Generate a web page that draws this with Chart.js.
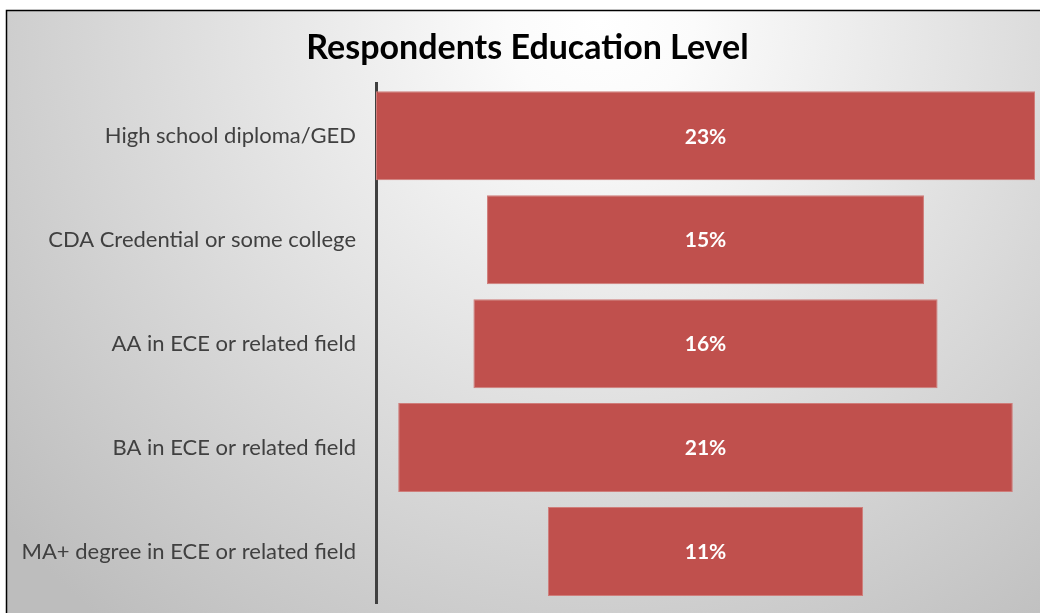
<!DOCTYPE html>
<html>
<head>
<meta charset="utf-8">
<script src="https://cdn.jsdelivr.net/npm/chart.js@4"></script>
<style>
  body { margin: 0; background: #ffffff; }
  #wrap { width: 1040px; height: 613px; position: relative; }
</style>
</head>
<body>
<div id="wrap"><canvas id="myChart"></canvas></div>
<script>
var categories = [
  'High school diploma/GED',
  'CDA Credential or some college',
  'AA in ECE or related field',
  'BA in ECE or related field',
  'MA+ degree in ECE or related field'
];
var percents = [23, 15.25, 16.2, 21.45, 11];
var labelsText = ['23%', '15%', '16%', '21%', '11%'];

var maxVal = 23;
var middle = maxVal / 2;

// funnel: each bar floats around the middle of the axis
var floating = percents.map(function (v) {
  return [middle - v / 2, middle + v / 2];
});

var backdrop = {
  id: 'backdrop',
  beforeDraw: function (chart) {
    var ctx = chart.ctx;
    var w = chart.width, h = chart.height;
    ctx.save();
    ctx.fillStyle = '#ffffff';
    ctx.fillRect(0, 0, w, h);
    var g = ctx.createRadialGradient(600, 20, 0, 600, 20, 780);
    g.addColorStop(0, '#ffffff');
    g.addColorStop(0.12, '#fbfbfb');
    g.addColorStop(1, '#bdbdbd');
    ctx.fillStyle = g;
    ctx.fillRect(6, 10, w - 6, h - 10);
    ctx.strokeStyle = '#000000';
    ctx.lineWidth = 1.5;
    ctx.beginPath();
    ctx.moveTo(6.5, h);
    ctx.lineTo(6.5, 10.5);
    ctx.lineTo(w, 10.5);
    ctx.stroke();
    ctx.restore();
  }
};

var barText = {
  id: 'barText',
  afterDatasetsDraw: function (chart) {
    var ctx = chart.ctx;
    var meta = chart.getDatasetMeta(0);
    ctx.save();
    ctx.fillStyle = '#ffffff';
    ctx.font = 'bold 21px Lato';
    ctx.textAlign = 'center';
    ctx.textBaseline = 'middle';
    meta.data.forEach(function (bar, i) {
      ctx.fillText(labelsText[i], (bar.x + bar.base) / 2, bar.y + 1);
    });
    ctx.restore();
  }
};

var data = {
  labels: categories,
  datasets: [{
    label: 'Education',
    data: floating,
    backgroundColor: '#c0504d',
    borderColor: '#cf7d7a',
    borderWidth: 1,
    borderSkipped: false,
    categoryPercentage: 1,
    barPercentage: 0.856
  }]
};

var config = {
  type: 'bar',
  data: data,
  options: {
    indexAxis: 'y',
    responsive: true,
    maintainAspectRatio: false,
    animation: false,
    layout: {
      padding: { top: 12, left: 20, right: 5, bottom: 9.5 }
    },
    plugins: {
      legend: { display: false },
      tooltip: { enabled: false },
      title: {
        display: true,
        text: 'Respondents Education Level',
        color: '#000000',
        font: { family: 'Lato', size: 34, weight: 'bold', lineHeight: 1.2 },
        padding: { top: 16, bottom: 15 }
      }
    },
    scales: {
      x: {
        display: false,
        min: 0,
        max: maxVal
      },
      y: {
        afterFit: function (scale) {
          scale.width = 356;
          scale.paddingTop = 0;
          scale.paddingBottom = 0;
        },
        grid: { display: false, drawTicks: false },
        border: { display: true, color: '#404040', width: 3 },
        ticks: {
          color: '#404040',
          padding: 20,
          font: { family: 'Lato', size: 22 }
        }
      }
    }
  },
  plugins: [backdrop, barText]
};

var myChart = new Chart(document.getElementById('myChart'), config);
</script>
</body>
</html>
